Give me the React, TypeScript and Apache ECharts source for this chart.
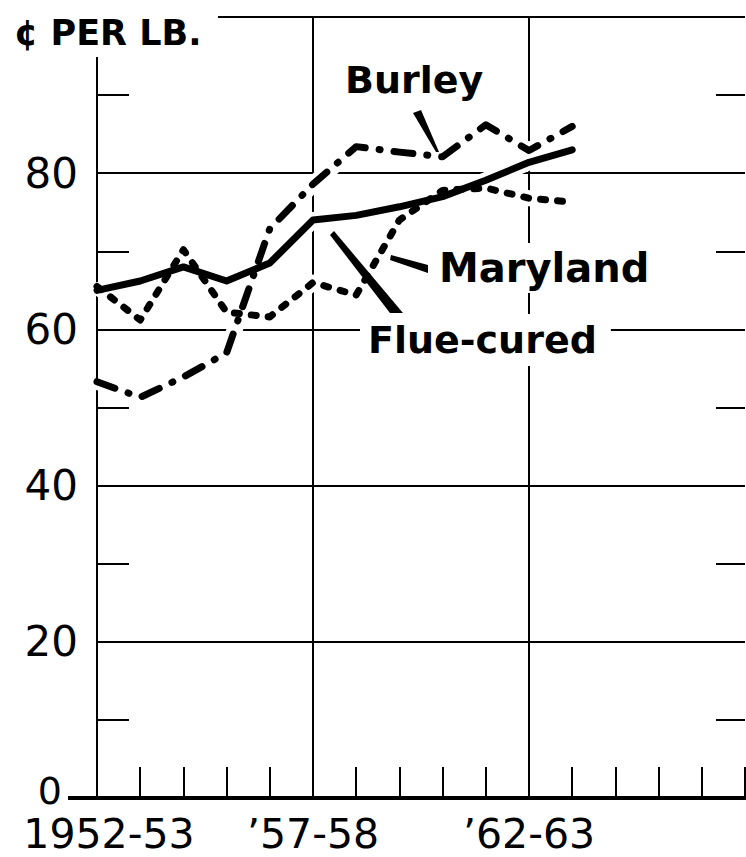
import React, { useEffect, useRef } from "react";
import * as echarts from "echarts";

const years = [
  "1952-53", "1953-54", "1954-55", "1955-56", "1956-57", "1957-58", "1958-59", "1959-60",
  "1960-61", "1961-62", "1962-63", "1963-64", "1964-65", "1965-66", "1966-67", "1967-68",
];
const xLabelYears = ["1952-53", "1957-58", "1962-63"];
const xLabelText = ["1952-53", "\u201957-58", "\u201962-63"];

const flueCured = [65.0, 66.2, 68.0, 66.2, 68.5, 74.0, 74.6, 75.7, 77.0, 79.1, 81.4, 83.0];
const burley = [53.3, 51.3, 53.9, 57.0, 72.9, 78.6, 83.4, 82.7, 82.1, 86.2, 82.9, 86.0];
const maryland = [65.5, 61.2, 70.2, 62.2, 61.6, 66.0, 64.4, 74.0, 77.8, 78.1, 76.8, 76.3];

const seriesNames = ["Flue-cured", "Burley", "Maryland"];
const yTicks = [0, 20, 40, 60, 80];

const FONT = "'DejaVu Sans', sans-serif";

export default function App() {
  const ref = useRef<HTMLDivElement>(null);
  useEffect(() => {
    document.body.style.margin = "0";
    const chart = echarts.init(ref.current!, null, { renderer: "svg" });
    const black = "#000";
    const data = [flueCured, burley, maryland];
    const styles = [
      { width: 7, type: "solid" as any, cap: "round" },
      { width: 7, type: [19, 14, 1, 14] as any, cap: "round" },
      { width: 7, type: [5, 12] as any, cap: "round" },
    ];
    const halos = data.map((d, i) => ({
      name: seriesNames[i] + " halo",
      type: "line",
      data: d,
      symbol: "none",
      silent: true,
      z: 1,
      lineStyle: { color: "#fff", width: 16, cap: "butt", join: "round" },
    }));
    const lines = data.map((d, i) => ({
      name: seriesNames[i],
      type: "line",
      data: d,
      symbol: "none",
      z: 3,
      lineStyle: { color: black, width: styles[i].width, type: styles[i].type, cap: styles[i].cap, join: "round" },
    }));
    chart.setOption({
      animation: false,
      backgroundColor: "#fff",
      grid: { left: 97, right: 1, top: 17, bottom: 59 },
      xAxis: {
        type: "category",
        data: years,
        boundaryGap: false,
        axisLine: { show: true, lineStyle: { color: black, width: 4 } },
        axisTick: { show: true, inside: true, length: 31, interval: 0, lineStyle: { color: black, width: 2 } },
        splitLine: {
          show: true,
          interval: (i: number, v: string) => v === xLabelYears[1] || v === xLabelYears[2],
          lineStyle: { color: black, width: 2 },
        },
        axisLabel: {
          interval: (i: number, v: string) => xLabelYears.indexOf(v) >= 0,
          formatter: (v: string) => {
            const k = xLabelYears.indexOf(v);
            if (k < 0) return "";
            return k === 0 ? "{f|" + xLabelText[k] + "}" : xLabelText[k];
          },
          color: black,
          fontFamily: FONT,
          fontSize: 41,
          margin: 15,
          rich: { f: { fontFamily: FONT, fontSize: 41, color: black, padding: [0, 0, 0, 24] } },
        },
      },
      yAxis: [
        {
          type: "value",
          min: 0,
          max: 100,
          interval: 20,
          axisLine: { show: true, lineStyle: { color: black, width: 2 } },
          axisTick: { show: false, inside: true },
          minorTick: { show: true, splitNumber: 2, length: 32, lineStyle: { color: black, width: 2 } },
          splitLine: { show: true, lineStyle: { color: black, width: 2 } },
          axisLabel: {
            color: black,
            fontFamily: FONT,
            fontSize: 42,
            margin: 19,
            formatter: (v: number) => (yTicks.indexOf(v) < 0 ? "" : v === 0 ? "{z|0}" : String(v)),
            rich: { z: { fontFamily: FONT, fontSize: 38, fontWeight: 500, color: black, padding: [0, 16, 14, 0] } },
          },
        },
        {
          type: "value",
          position: "right",
          min: 0,
          max: 100,
          interval: 20,
          axisLine: { show: false },
          axisTick: { show: false, inside: true },
          minorTick: { show: true, splitNumber: 2, length: 29, lineStyle: { color: black, width: 2 } },
          splitLine: { show: false },
          axisLabel: { show: false },
        },
      ],
      series: [...halos, ...lines],
      graphic: {
        elements: [
          { type: "rect", z: 100, shape: { x: 0, y: 0, width: 218, height: 57 }, style: { fill: "#fff" } },
          {
            type: "text", z: 101, x: 14, y: 33,
            style: { text: "\u00A2 PER LB.", fontFamily: FONT, fontSize: 35, fontWeight: "bold", fill: black, verticalAlign: "middle" },
          },
          { type: "line", z: 100, shape: { x1: 68, y1: 798, x2: 97, y2: 798 }, style: { stroke: black, lineWidth: 4 } },
          {
            type: "text", z: 101, x: 345, y: 80,
            style: { text: "Burley", fontFamily: FONT, fontSize: 38, fontWeight: "bold", fill: black, verticalAlign: "middle" },
          },
          {
            type: "text", z: 101, x: 431, y: 268,
            style: {
              text: "Maryland", fontFamily: FONT, fontSize: 40, fontWeight: "bold", fill: black, verticalAlign: "middle",
              backgroundColor: "#fff", padding: [4, 8, 6, 8],
            },
          },
          {
            type: "text", z: 101, x: 360, y: 340,
            style: {
              text: "Flue-cured", fontFamily: FONT, fontSize: 38, fontWeight: "bold", fill: black, verticalAlign: "middle",
              backgroundColor: "#fff", padding: [6, 14, 8, 8],
            },
          },
          { type: "polygon", z: 100, shape: { points: [[413, 113], [421, 110], [439, 152], [436, 152]] }, style: { fill: black } },
          { type: "polygon", z: 100, shape: { points: [[391, 255], [428, 265], [428, 273], [390, 260]] }, style: { fill: black } },
          { type: "polygon", z: 100, shape: { points: [[330, 235], [334, 231], [403, 313], [390, 313]] }, style: { fill: black } },
        ],
      },
    });
    return () => chart.dispose();
  }, []);
  return <div ref={ref} style={{ width: 746, height: 857 }} />;
}
